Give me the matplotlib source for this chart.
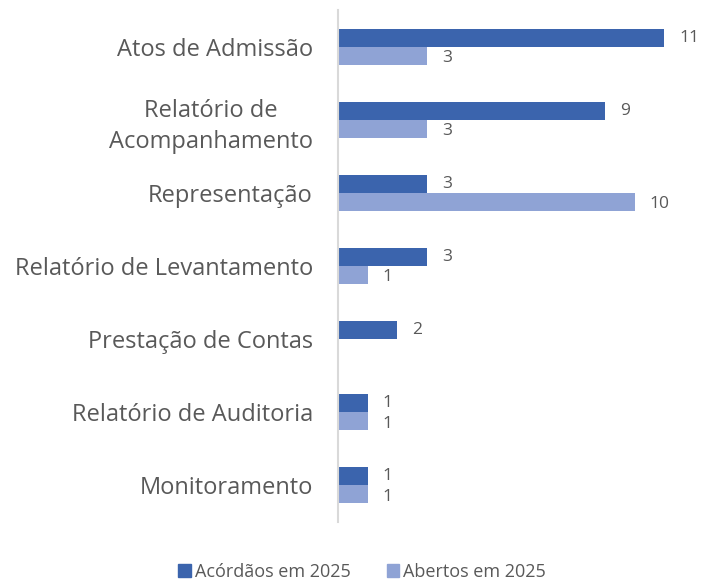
import matplotlib.pyplot as plt
import numpy as np
from matplotlib.patches import Patch

plt.rcParams['font.family'] = ['Open Sans', 'DejaVu Sans']

categories = ['Atos de Admissão', 'Relatório de\nAcompanhamento', 'Representação',
              'Relatório de Levantamento', 'Prestação de Contas',
              'Relatório de Auditoria', 'Monitoramento']
acordaos = [11, 9, 3, 3, 2, 1, 1]
abertos = [3, 3, 10, 1, 0, 1, 1]

dark = '#3B64AD'
light = '#8FA3D5'
txt = '#595959'

fig = plt.figure(figsize=(7.02, 5.82), dpi=100)
ax = fig.add_axes([338 / 702, 1 - 522 / 582, 356 / 702, 512 / 582])

y = np.arange(len(categories))
h = 0.247
ax.barh(y - h / 2, acordaos, height=h, color=dark)
ax.barh(y + h / 2, abertos, height=h, color=light)

for i in range(len(categories)):
    ax.text(acordaos[i] + 0.5, y[i] - h / 2, str(acordaos[i]), va='center', ha='left',
            fontsize=12.5, color=txt)
    if abertos[i] > 0:
        ax.text(abertos[i] + 0.5, y[i] + h / 2 + 0.03, str(abertos[i]), va='center', ha='left',
                fontsize=12.5, color=txt)

ax.set_xlim(0, 12)
ax.set_ylim(len(categories) - 0.5, -0.5)
ax.set_yticks(y)
ax.set_yticklabels(categories, fontsize=17, color=txt, linespacing=1.4)
for lab in ax.get_yticklabels():
    lab.set_multialignment('center')
ax.tick_params(axis='y', length=0, pad=18)
ax.set_xticks([])
for s in ['top', 'right', 'bottom']:
    ax.spines[s].set_visible(False)
ax.spines['left'].set_color('#D9D9D9')
ax.spines['left'].set_linewidth(1.5)

handles = [Patch(color=dark, label='Acórdãos em 2025'), Patch(color=light, label='Abertos em 2025')]
fig.legend(handles=handles, loc='center', bbox_to_anchor=(362 / 702, 1 - 572 / 582), ncol=2,
           frameon=False, fontsize=13, handlelength=0.7, handleheight=0.7, handletextpad=0.2,
           columnspacing=2.0, labelcolor=txt)

fig.savefig('out.png', dpi=100)
